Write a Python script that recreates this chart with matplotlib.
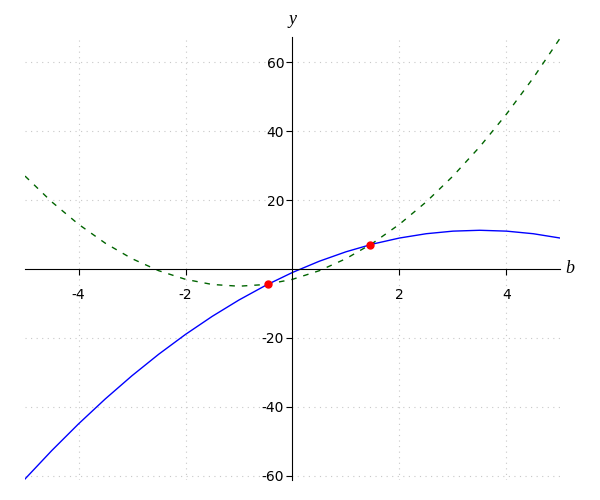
import matplotlib
matplotlib.use('Agg')
import matplotlib.pyplot as plt

b_vals = [-5, -4.5, -4, -3.5, -3, -2.5, -2, -1.5, -1, -0.5, 0,
          0.5, 1, 1.5, 2, 2.5, 3, 3.5, 4, 4.5, 5]
y_blue = [-61, -52.75, -45, -37.75, -31, -24.75, -19, -13.75, -9, -4.75, -1,
          2.25, 5, 7.25, 9, 10.25, 11, 11.25, 11, 10.25, 9]
y_green = [27, 19.5, 13, 7.5, 3, -0.5, -3, -4.5, -5, -4.5, -3,
           -0.5, 3, 7.5, 13, 19.5, 27, 35.5, 45, 55.5, 67]
pts_b = [-0.457, 1.457]
pts_y = [-4.38, 7.1]

xticks = [-4, -2, 2, 4]
yticks = [-60, -40, -20, 20, 40, 60]

fig = plt.figure(figsize=(6, 5), dpi=100)
ax = fig.add_axes([0.0417, 0.04, 0.8916, 0.886])

ax.plot(b_vals, y_blue, color='blue', lw=1)
ax.plot(b_vals, y_green, color='darkgreen', lw=1, ls=(0, (4, 5)))
ax.plot(pts_b, pts_y, 'o', color='red', ms=5, zorder=5)

ax.set_xlim(-5, 5)
ax.set_ylim(-61.3, 67.4)

# axes through the origin
ax.spines['left'].set_position(('data', 0))
ax.spines['bottom'].set_position(('data', 0))
ax.spines['right'].set_visible(False)
ax.spines['top'].set_visible(False)

ax.set_xticks(xticks)
ax.set_yticks(yticks)
ax.set_xticklabels([str(t) for t in xticks])
ax.set_yticklabels([str(t) for t in yticks])
ax.tick_params(direction='out', length=4, labelsize=10, pad=10)
ax.tick_params(axis='y', pad=2)
ax.grid(True, ls=(0, (1, 4)), color='#c8c8c8', lw=0.8)

ax.text(1.01, 0, 'b', transform=ax.get_yaxis_transform(), fontsize=13,
        style='italic', family='Liberation Serif', va='center', ha='left')
ax.text(0, 1.02, 'y', transform=ax.get_xaxis_transform(), fontsize=13,
        style='italic', family='Liberation Serif', va='bottom', ha='center')

fig.savefig('out.png')
